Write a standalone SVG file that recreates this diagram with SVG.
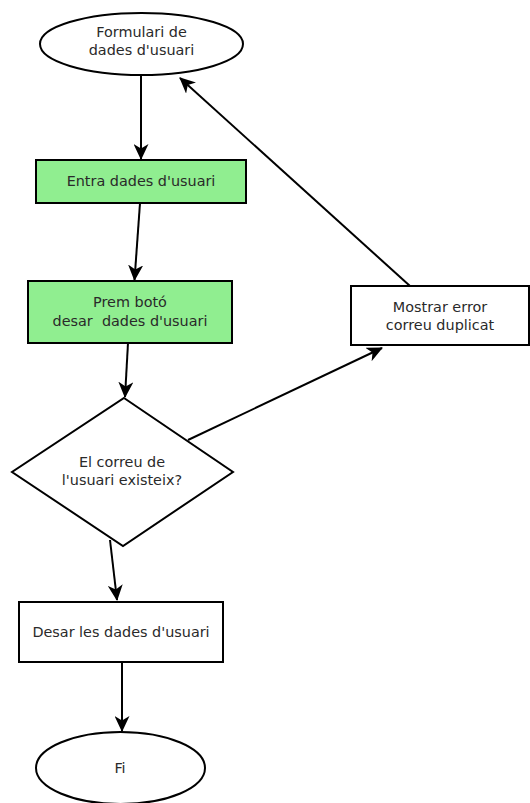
<svg xmlns="http://www.w3.org/2000/svg" width="530" height="803" viewBox="0 0 530 803">
  <style>
    .shape { stroke: #000; stroke-width: 2; }
    .plain { fill: #fff; }
    .task { fill: #90ee90; }
    .label { font-family: "DejaVu Sans", sans-serif; font-size: 14.4px; fill: #2a2a2a; text-anchor: middle; white-space: pre; }
    .edge { fill: none; stroke: #000; stroke-width: 2; marker-end: url(#arrow); }
  </style>
  <defs>
    <marker id="arrow" viewBox="0 0 16 15" refX="15" refY="7.5" markerWidth="16" markerHeight="15" markerUnits="userSpaceOnUse" orient="auto">
      <path d="M0,0 L16,7.5 L0,15 L4.5,7.5 Z" fill="#000"/>
    </marker>
  </defs>

  <rect width="530" height="803" fill="#fff"/>

  <g id="connectors">
    <line class="edge" x1="141" y1="75" x2="141" y2="159"/>
    <line class="edge" x1="140" y1="203" x2="134.5" y2="280"/>
    <line class="edge" x1="128" y1="343" x2="125" y2="397"/>
    <line class="edge" x1="188" y1="440" x2="382" y2="348"/>
    <line class="edge" x1="410" y1="286" x2="180" y2="78"/>
    <line class="edge" x1="110" y1="540" x2="117" y2="600"/>
    <line class="edge" x1="122" y1="662" x2="122" y2="731"/>
  </g>

  <g id="node-formulari">
    <ellipse class="shape plain" cx="141.5" cy="44" rx="101.5" ry="31"/>
    <text class="label" x="141.5" y="37">Formulari de</text>
    <text class="label" x="141.5" y="55">dades d'usuari</text>
  </g>

  <g id="node-entra">
    <rect class="shape task" x="36" y="160" width="210" height="43"/>
    <text class="label" x="141" y="186">Entra dades d'usuari</text>
  </g>

  <g id="node-prem">
    <rect class="shape task" x="28" y="281" width="204" height="62"/>
    <text class="label" x="130" y="307">Prem botó</text>
    <text class="label" x="130" y="325.5">desar  dades d'usuari</text>
  </g>

  <g id="node-existeix">
    <polygon class="shape plain" points="124,398 233,472 123,546 12,472"/>
    <text class="label" x="122" y="467">El correu de</text>
    <text class="label" x="122" y="485">l'usuari existeix?</text>
  </g>

  <g id="node-mostrar">
    <rect class="shape plain" x="351" y="286" width="178" height="59"/>
    <text class="label" x="440" y="311.5">Mostrar error</text>
    <text class="label" x="440" y="329.5">correu duplicat</text>
  </g>

  <g id="node-desar">
    <rect class="shape plain" x="19" y="602" width="204" height="60"/>
    <text class="label" x="121" y="636.5">Desar les dades d'usuari</text>
  </g>

  <g id="node-fi">
    <ellipse class="shape plain" cx="120.5" cy="768" rx="84.5" ry="36"/>
    <text class="label" x="120" y="772.5">Fi</text>
  </g>
</svg>
